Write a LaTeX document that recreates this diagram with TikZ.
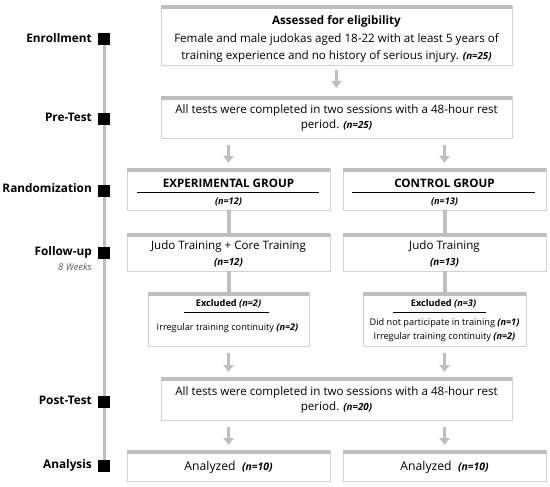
\documentclass[tikz,border=0pt]{standalone}
\usepackage{fontspec}
\setmainfont{Open Sans}
\usetikzlibrary{arrows.meta}
\definecolor{bord}{HTML}{BFBFBF}
\definecolor{thinb}{HTML}{D3D3D3}
\definecolor{wk}{HTML}{595959}
\newcommand\nlab[2]{{\fontsize{#1}{#1}\selectfont\bfseries\itshape #2}}
\begin{document}
\begin{tikzpicture}[x=1pt,y=-1pt,
  gbox/.style={draw=thinb, line width=0.9pt, fill=white, inner sep=0pt, outer sep=0pt},
  topbar/.style={draw=bord, line width=4pt},
  conn/.style={draw=bord, line width=4pt},
  garrow/.style={draw=bord, line width=3pt, -{Triangle[width=10pt,length=7pt]}},
  lab/.style={font=\fontsize{11.8}{13}\selectfont\bfseries, anchor=mid east, inner sep=0pt},
  sq/.style={fill=black, minimum size=12pt, inner sep=0pt},
  txt/.style={font=\fontsize{11.6}{13}\selectfont, anchor=mid, inner sep=0pt},
  btxt/.style={font=\fontsize{11.6}{13}\selectfont\bfseries, anchor=mid, inner sep=0pt},
  big/.style={font=\fontsize{12.2}{13}\selectfont, anchor=mid, inner sep=0pt},
  sml/.style={font=\fontsize{9.2}{10}\selectfont, anchor=mid, inner sep=0pt},
  uline/.style={draw=black, line width=0.8pt}
]
\useasboundingbox (0,0) rectangle (550,487);
% timeline
\coordinate (tl0) at (104,39);
\coordinate (tl1) at (104,466);
\draw[draw=bord, line width=3pt] (tl0) -- (tl1);
\node[sq] (s1) at (104,39) {};
\node[sq] (s2) at (104,119) {};
\node[sq] (s3) at (104,191) {};
\node[sq] (s4) at (104,253) {};
\node[sq] (s5) at (104,402) {};
\node[sq] (s6) at (104,466) {};
\node[lab] (l1) at (92,40) {Enrollment};
\node[lab] (l2) at (92,119) {Pre-Test};
\node[lab] (l3) at (92,190) {Randomization};
\node[lab] (l4) at (92,253) {Follow-up};
\node[font=\fontsize{9.4}{10}\selectfont\itshape, text=wk, anchor=mid east, inner sep=0pt] (l4b) at (92,268) {8 Weeks};
\node[lab] (l5) at (92,402) {Post-Test};
\node[lab] (l6) at (92,466) {Analysis};
% boxes
\node[gbox, minimum width=351pt, minimum height=60pt] (b1) at (336.5,35) {};
\node[gbox, minimum width=351pt, minimum height=42pt] (b2) at (336.5,117) {};
\node[gbox, minimum width=203pt, minimum height=42pt] (rl) at (228.5,189) {};
\node[gbox, minimum width=203pt, minimum height=42pt] (rr) at (444.5,189) {};
\node[gbox, minimum width=203pt, minimum height=38pt] (fl) at (228.5,252) {};
\node[gbox, minimum width=203pt, minimum height=38pt] (fr) at (444.5,252) {};
\node[gbox, minimum width=161pt, minimum height=54pt] (el) at (228.5,319) {};
\node[gbox, minimum width=163pt, minimum height=54pt] (er) at (444.5,319) {};
\node[gbox, minimum width=351pt, minimum height=43pt] (pt) at (336.5,398.5) {};
\node[gbox, minimum width=203pt, minimum height=31pt] (al) at (228.5,465.5) {};
\node[gbox, minimum width=203pt, minimum height=31pt] (ar) at (444.5,465.5) {};
\foreach \n in {b1,b2,rl,rr,fl,fr,el,er,pt,al,ar}
  \draw[topbar] ([yshift=-2pt]\n.north west) -- ([yshift=-2pt]\n.north east);
% connectors
\draw[conn] (rl.south) -- (fl.north);
\draw[conn] (rr.south) -- (fr.north);
\draw[conn] (fl.south) -- (el.north);
\draw[conn] (fr.south) -- (er.north);
\draw[garrow, shorten <=5pt, shorten >=8pt] (b1.south) -- (b2.north);
\draw[garrow, shorten <=7pt, shorten >=5pt] (rl.north |- b2.south) -- (rl.north);
\draw[garrow, shorten <=7pt, shorten >=5pt] (rr.north |- b2.south) -- (rr.north);
\draw[garrow, shorten <=7pt, shorten >=5pt] (el.south) -- (el.south |- pt.north);
\draw[garrow, shorten <=7pt, shorten >=5pt] (er.south) -- (er.south |- pt.north);
\draw[garrow, shorten <=7pt, shorten >=5pt] (al.north |- pt.south) -- (al.north);
\draw[garrow, shorten <=7pt, shorten >=5pt] (ar.north |- pt.south) -- (ar.north);
% texts
\node[btxt] (t1a) at (336.5,22) {Assessed for eligibility};
\node[txt] (t1b) at (336.5,39.5) {Female and male judokas aged 18-22 with at least 5 years of};
\node[txt] (t1c) at (336.5,57) {training experience and no history of serious injury. \nlab{9.8}{(n=25)}};
\node[txt] (t2a) at (336.5,111) {All tests were completed in two sessions with a 48-hour rest};
\node[txt] (t2b) at (336.5,126) {period. \nlab{9.8}{(n=25)}};
\node[btxt] (t3a) at (228.5,184.5) {EXPERIMENTAL GROUP};
\draw[uline] (137,192) -- (319,192);
\node[sml] (t3b) at (228.5,201.5) {\nlab{9.2}{(n=12)}};
\node[btxt] (t4a) at (444.5,184.5) {CONTROL GROUP};
\draw[uline] (352,192) -- (535,192);
\node[sml] (t4b) at (444.5,201.5) {\nlab{9.2}{(n=13)}};
\node[txt] (t5a) at (228.5,247) {Judo Training + Core Training};
\node[sml] (t5b) at (228.5,263) {\nlab{9.8}{(n=12)}};
\node[txt] (t6a) at (444.5,247) {Judo Training};
\node[sml] (t6b) at (444.5,263) {\nlab{9.8}{(n=13)}};
\node[sml] (t7a) at (228.5,304) {\textbf{Excluded \textit{(n=2)}}};
\draw[uline] (184,312) -- (269,312);
\node[sml] (t7b) at (227.5,328) {Irregular training continuity \textbf{\textit{(n=2)}}};
\node[sml] (t8a) at (443.5,304) {\textbf{Excluded \textit{(n=3)}}};
\draw[uline] (393,312) -- (486,312);
\node[sml] (t8b) at (444.5,322.5) {Did not participate in training \textbf{\textit{(n=1)}}};
\node[sml] (t8c) at (444.5,337) {Irregular training continuity \textbf{\textit{(n=2)}}};
\node[txt] (t9a) at (336.5,393) {All tests were completed in two sessions with a 48-hour rest};
\node[txt] (t9b) at (336.5,408) {period. \nlab{9.8}{(n=20)}};
\node[big] (t10) at (228.5,467.5) {Analyzed\ \ \nlab{10.4}{(n=10)}};
\node[big] (t11) at (444.5,467.5) {Analyzed\ \ \nlab{10.4}{(n=10)}};
\end{tikzpicture}
\end{document}
